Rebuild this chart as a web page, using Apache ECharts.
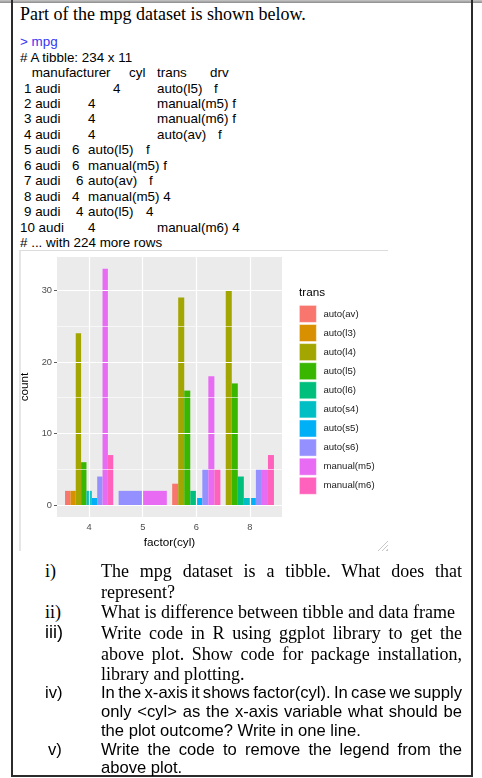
<!DOCTYPE html>
<html><head><meta charset="utf-8">
<script src="https://cdn.jsdelivr.net/npm/echarts@6/dist/echarts.min.js"></script>
<style>
html,body{margin:0;padding:0;background:#fff;}
#page{position:relative;width:482px;height:778px;overflow:hidden;background:#fff;}
.t{position:absolute;white-space:nowrap;}
.rl{position:absolute;left:0;height:15px;width:482px;font-family:"Liberation Sans",Arial,sans-serif;font-size:13.4px;line-height:15px;color:#000;}
.rl span{position:absolute;top:0;white-space:nowrap;}
.q{position:absolute;left:101px;width:361px;white-space:nowrap;color:#000;}
.serif{font-family:"Liberation Serif","Times New Roman",serif;font-size:18px;line-height:20px;height:20px;}
.sans{font-family:"Liberation Sans",Arial,sans-serif;font-size:16.6px;line-height:18px;height:18px;}
.j{text-align:justify;text-align-last:justify;white-space:normal;}
.num{position:absolute;white-space:nowrap;color:#000;}
#frame{position:absolute;left:11px;top:0;width:458px;height:775px;border-left:2px solid #2b2b2b;border-right:2px solid #2b2b2b;border-bottom:2px solid #2b2b2b;}
#topline{position:absolute;left:0;top:0;width:482px;height:3px;background:linear-gradient(to bottom,#c8c8c8,#8a8a8a);}
#imgbox{position:absolute;left:19px;top:250px;width:369px;height:301px;border-left:2px solid #e6e6e6;border-top:1.5px solid #dcdcdc;box-sizing:border-box;}
#chart{position:absolute;left:21px;top:251px;width:367px;height:300px;}
#grip{position:absolute;left:377px;top:540px;width:11px;height:11px;background:repeating-linear-gradient(135deg,transparent 0 2px,#c8c8c8 2px 3px);clip-path:polygon(100% 0,100% 100%,0 100%);}
</style></head>
<body>
<div id="page">
  <div id="topline"></div>
  <div id="frame"></div>

  <div class="t" style="left:20px;top:4px;font-family:'Liberation Serif','Times New Roman',serif;font-size:18px;line-height:21px;">Part of the mpg dataset is shown below.</div>

  <div id="rtable"></div>

  <div id="imgbox"></div>
  <div id="chart"></div>
  <div id="grip"></div>

  <!-- questions -->
  <div class="num serif" style="left:45px;top:561px;">i)</div>
  <div class="q serif j" style="top:561px;">The mpg dataset is a tibble. What does that</div>
  <div class="q serif" style="top:582px;">represent?</div>
  <div class="num serif" style="left:45px;top:602px;">ii)</div>
  <div class="q serif" style="top:602px;">What is difference between tibble and data frame</div>
  <div class="num" style="left:45px;top:622px;font-family:'Liberation Sans',Arial,sans-serif;font-size:18px;line-height:20px;">iii)</div>
  <div class="q serif j" style="top:623px;">Write code in R using ggplot library to get the</div>
  <div class="q serif j" style="top:644px;">above plot. Show code for package installation,</div>
  <div class="q serif" style="top:664px;">library and plotting.</div>
  <div class="num sans" style="left:45px;top:684px;">iv)</div>
  <div class="q sans j" style="top:684px;word-spacing:-2px;">In the x-axis it shows factor(cyl). In case we supply</div>
  <div class="q sans j" style="top:703px;">only &lt;cyl&gt; as the x-axis variable what should be</div>
  <div class="q sans" style="top:722px;">the plot outcome? Write in one line.</div>
  <div class="num sans" style="left:48px;top:741px;">v)</div>
  <div class="q sans j" style="top:741px;">Write the code to remove the legend from the</div>
  <div class="q sans" style="top:759px;">above plot.</div>
</div>

<script>
// ---- R console listing (text, positions as [x, text]) ----
const consoleLines = [
  [[20, '> mpg', '#3535F5']],
  [[20, '# A tibble: 234 x 11']],
  [[31.7, 'manufacturer'], [129, 'cyl'], [157, 'trans'], [210, 'drv']],
  [[24, '1 audi'], [113, '4'], [157, 'auto(l5)'], [214, 'f']],
  [[24, '2 audi'], [88, '4'], [157, 'manual(m5) f']],
  [[24, '3 audi'], [88, '4'], [157, 'manual(m6) f']],
  [[24, '4 audi'], [88, '4'], [157, 'auto(av)'], [218, 'f']],
  [[24, '5 audi'], [72, '6'], [88, 'auto(l5)'], [146, 'f']],
  [[24, '6 audi'], [72, '6'], [88, 'manual(m5) f']],
  [[24, '7 audi'], [76, '6'], [88, 'auto(av)'], [149, 'f']],
  [[24, '8 audi'], [72, '4'], [88, 'manual(m5) 4']],
  [[24, '9 audi'], [76, '4'], [88, 'auto(l5)'], [146, '4']],
  [[20, '10 audi'], [88, '4'], [157, 'manual(m6) 4']],
  [[20, '# ... with 224 more rows']]
];
(function(){
  const host = document.getElementById('rtable');
  consoleLines.forEach((parts, i) => {
    const d = document.createElement('div');
    d.className = 'rl';
    d.style.top = (41.7 + i * 15.45 - 7.5) + 'px';
    parts.forEach(p => {
      const s = document.createElement('span');
      s.style.left = p[0] + 'px';
      if (p[2]) s.style.color = p[2];
      s.textContent = p[1];
      d.appendChild(s);
    });
    host.appendChild(d);
  });
})();

// ---- chart data ----
const cylLevels = ['4', '5', '6', '8'];
const transLevels = ['auto(av)', 'auto(l3)', 'auto(l4)', 'auto(l5)', 'auto(l6)',
                     'auto(s4)', 'auto(s5)', 'auto(s6)', 'manual(m5)', 'manual(m6)'];
const transColors = ['#F8766D', '#D89000', '#A3A500', '#39B600', '#00BF7D',
                     '#00BFC4', '#00B0F6', '#9590FF', '#E76BF3', '#FF62BC'];
// counts per cyl, in transLevels order (null = absent)
const countsCyl4 = [2, 2, 24, 6, null, 2, 1, 4, 33, 7];
const countsCyl5 = [null, null, null, null, null, null, null, 2, 2, null];
const countsCyl6 = [3, null, 29, 16, 2, null, 1, 5, 18, 5];
const countsCyl8 = [null, null, 30, 17, 4, 1, 1, 5, 5, 7];
const yTicks = [0, 10, 20, 30];
const yMinorTicks = [5, 15, 25];

const countsByCyl = [countsCyl4, countsCyl5, countsCyl6, countsCyl8];
const xTicks = cylLevels.map((c, i) => i + 1);

// position="dodge" (width 0.9) layout
const seriesData = transLevels.map(() => []);
countsByCyl.forEach((arr, ci) => {
  const present = arr.map((v, ti) => v == null ? -1 : ti).filter(ti => ti >= 0);
  const n = present.length, w = 0.9 / n;
  present.forEach((ti, j) => {
    const x = (ci + 1) - 0.45 + (j + 0.5) * w;
    seriesData[ti].push([x, arr[ti], w]);
  });
});

function renderBar(params, api) {
  const x = api.value(0), y = api.value(1), w = api.value(2);
  const p0 = api.coord([x - w / 2, y]);
  const p1 = api.coord([x + w / 2, 0]);
  return {
    type: 'rect',
    shape: { x: p0[0], y: p0[1], width: p1[0] - p0[0], height: p1[1] - p0[1] },
    style: { fill: api.visual('color') }
  };
}

const FONT = '"Liberation Sans", Arial, sans-serif';
const chart = echarts.init(document.getElementById('chart'), null, { renderer: 'canvas' });

const series = transLevels.map((name, i) => ({
  name: name,
  type: 'custom',
  renderItem: renderBar,
  encode: { x: 0, y: 1 },
  data: seriesData[i],
  z: 3,
  silent: true
}));

series.push({
  name: '__grid',
  type: 'line',
  data: [],
  z: 1,
  silent: true,
  markLine: {
    silent: true,
    symbol: ['none', 'none'],
    label: { show: false },
    emphasis: { disabled: true },
    animation: false,
    data: [].concat(
      yMinorTicks.map(v => ({ yAxis: v, lineStyle: { color: '#FFFFFF', width: 0.6, type: 'solid' } })),
      yTicks.map(v => ({ yAxis: v, lineStyle: { color: '#FFFFFF', width: 1.2, type: 'solid' } })),
      xTicks.map(v => ({ xAxis: v, lineStyle: { color: '#FFFFFF', width: 1.2, type: 'solid' } }))
    )
  }
});

chart.setOption({
  animation: false,
  color: transColors,
  title: {
    text: 'trans', left: 278, top: 36, padding: 0,
    textStyle: { fontFamily: FONT, fontSize: 11.7, fontWeight: 'normal', color: '#000' }
  },
  legend: {
    data: transLevels,
    orient: 'vertical',
    left: 278, top: 54,
    padding: 0,
    itemWidth: 17, itemHeight: 17, itemGap: 1.3,
    icon: 'rect',
    selectedMode: false,
    itemStyle: { borderColor: 'rgba(255,255,255,0.55)', borderWidth: 0.8 },
    textStyle: { fontFamily: FONT, fontSize: 9.6, color: '#1A1A1A', padding: [0, 0, 0, 2] }
  },
  grid: {
    left: 36, top: 6, width: 225, height: 260,
    containLabel: false,
    outerBoundsMode: 'none',
    show: true, backgroundColor: '#EBEBEB', borderWidth: 0
  },
  xAxis: {
    type: 'value', min: 0.4, max: 4.6,
    name: 'factor(cyl)', nameLocation: 'middle', nameGap: 19,
    nameTextStyle: { fontFamily: FONT, fontSize: 11.7, color: '#000' },
    axisLine: { show: false },
    axisTick: { show: true, customValues: xTicks, length: 3, lineStyle: { color: '#333', width: 0.8 } },
    axisLabel: { customValues: xTicks, formatter: v => cylLevels[Math.round(v) - 1], fontFamily: FONT, fontSize: 9.3, color: '#4D4D4D', margin: 6 },
    splitLine: { show: false }
  },
  yAxis: {
    type: 'value', min: -1.65, max: 34.65,
    name: 'count', nameLocation: 'middle', nameGap: 18, nameRotate: 90,
    nameTextStyle: { fontFamily: FONT, fontSize: 11.7, color: '#000' },
    axisLine: { show: false },
    axisTick: { show: true, customValues: yTicks, length: 3, lineStyle: { color: '#333', width: 0.8 } },
    axisLabel: { customValues: yTicks, fontFamily: FONT, fontSize: 9.3, color: '#4D4D4D', margin: 5 },
    splitLine: { show: false }
  },
  series: series
});
</script>
</body></html>
